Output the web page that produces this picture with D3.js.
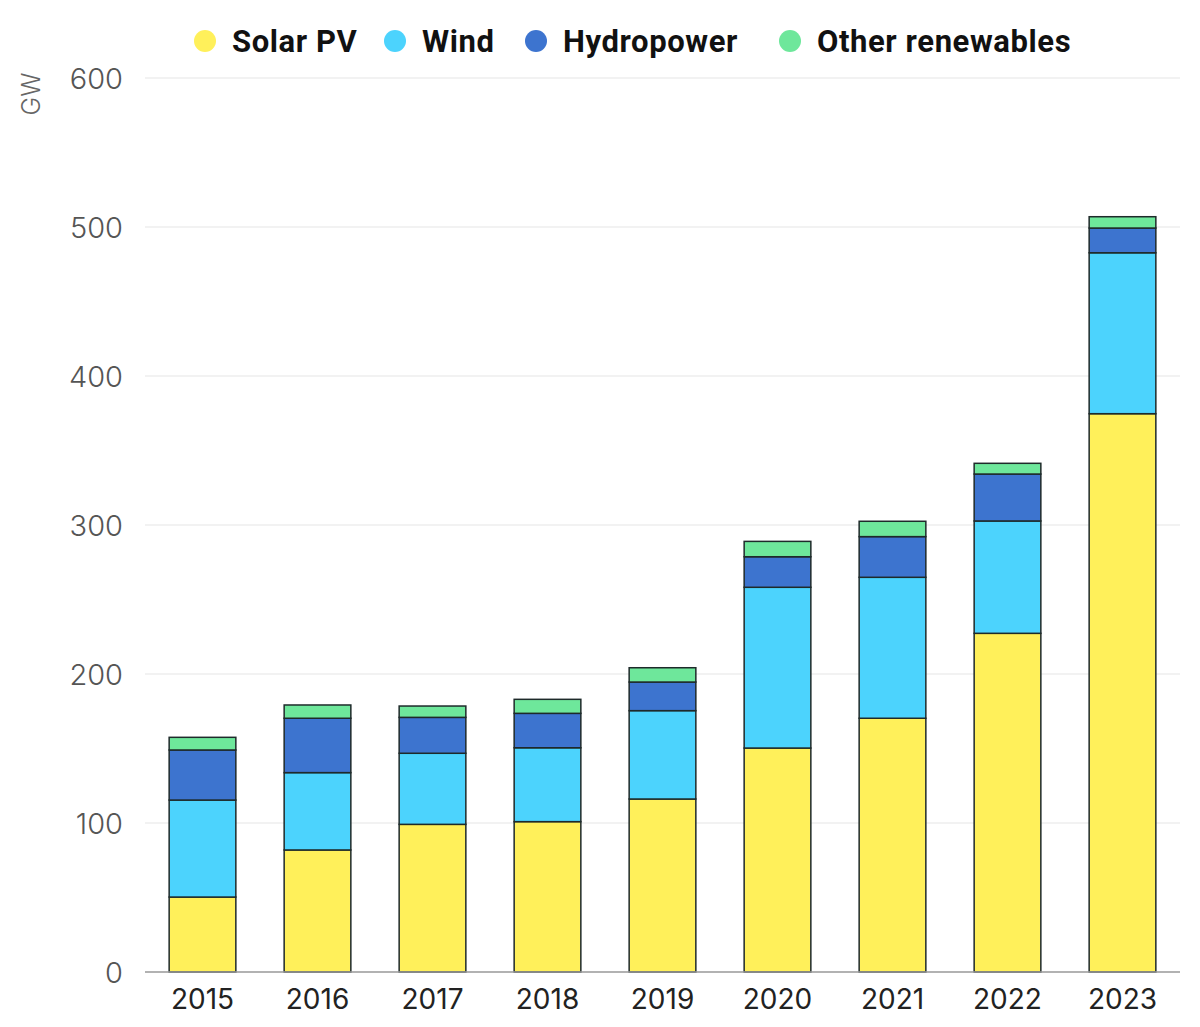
<!DOCTYPE html>
<html>
<head>
<meta charset="utf-8">
<script src="https://cdn.jsdelivr.net/npm/d3@7"></script>
<style>
  html, body { margin: 0; padding: 0; background: #fff; }
  svg { display: block; }
</style>
</head>
<body>
<svg id="chart" width="1200" height="1027"></svg>
<script>
const years = ["2015","2016","2017","2018","2019","2020","2021","2022","2023"];
const seriesNames = ["Solar PV","Wind","Hydropower","Other renewables"];
const solarPV = [50.3, 81.9, 99.1, 100.9, 116.1, 150.3, 170.3, 227.3, 374.7];
const wind = [65.1, 51.9, 47.7, 49.6, 59.3, 107.9, 94.6, 75.4, 108.0];
const hydropower = [33.6, 36.5, 24.1, 23.1, 19.2, 20.5, 27.3, 31.5, 16.6];
const otherRenewables = [8.5, 8.9, 7.6, 9.4, 9.6, 10.3, 10.3, 7.2, 7.6];
const yTicks = [0, 100, 200, 300, 400, 500, 600];
const colors = ["#fff05a", "#4cd3fd", "#3d74cf", "#6ee79b"];

const svg = d3.select("#chart");

const x = d3.scaleBand().domain(years).range([145, 1180]).paddingInner(0.42).paddingOuter(0.21);
const y = d3.scaleLinear().domain([0, 600]).range([972, 78]);

// gridlines
svg.append("g").selectAll("line").data(yTicks.filter(d => d > 0)).join("line")
  .attr("x1", 145).attr("x2", 1180)
  .attr("y1", d => y(d)).attr("y2", d => y(d))
  .attr("stroke", "#e6e6e6").attr("stroke-width", 1.2);

// y axis labels
const yAxis = d3.axisLeft(y).tickValues(yTicks).tickSize(0).tickPadding(0);
const yg = svg.append("g").attr("transform", "translate(123,0)").call(yAxis);
yg.select(".domain").remove();
yg.selectAll("text").attr("font-family", "Inter, sans-serif").attr("font-size", 29)
  .attr("fill", "#555").attr("dy", "0.36em").attr("font-weight", 300);

// GW label
svg.append("text").attr("transform", "translate(40,94) rotate(-90)")
  .attr("text-anchor", "middle").attr("font-family", "Inter, sans-serif")
  .attr("font-size", 25).attr("fill", "#666").attr("font-weight", 300).text("GW");

// stacked data
const data = years.map((yr, i) => ({year: yr, "Solar PV": solarPV[i], "Wind": wind[i], "Hydropower": hydropower[i], "Other renewables": otherRenewables[i]}));
const stack = d3.stack().keys(seriesNames)(data);

svg.append("g").selectAll("g").data(stack).join("g")
  .attr("fill", (d, i) => colors[i])
  .selectAll("rect").data(d => d).join("rect")
  .attr("x", d => x(d.data.year))
  .attr("width", x.bandwidth())
  .attr("y", d => y(d[1]))
  .attr("height", d => y(d[0]) - y(d[1]))
  .attr("stroke", "#1e2a2a").attr("stroke-width", 1.5);

// x axis baseline
const xAxis = d3.axisBottom(x).tickSize(0).tickPadding(17);
const xg = svg.append("g").attr("transform", "translate(0,972)").call(xAxis);
xg.select(".domain").attr("d", "M145,0H1180").attr("stroke", "#999").attr("stroke-width", 1.5);
xg.selectAll("text").attr("font-family", "Inter, sans-serif").attr("font-size", 28)
  .attr("fill", "#222").attr("font-weight", 400);

// legend
const legendX = [205, 395, 536, 790];
const lg = svg.append("g").selectAll("g").data(seriesNames).join("g")
  .attr("transform", (d, i) => `translate(${legendX[i]},41)`);
lg.append("circle").attr("r", 11).attr("fill", (d, i) => colors[i]);
lg.append("text").attr("x", 27).attr("dy", "0.36em")
  .attr("font-family", "Roboto, sans-serif").attr("font-weight", 700)
  .attr("font-size", 31).attr("letter-spacing", 0.6).attr("fill", "#111").text(d => d);
</script>
</body>
</html>
